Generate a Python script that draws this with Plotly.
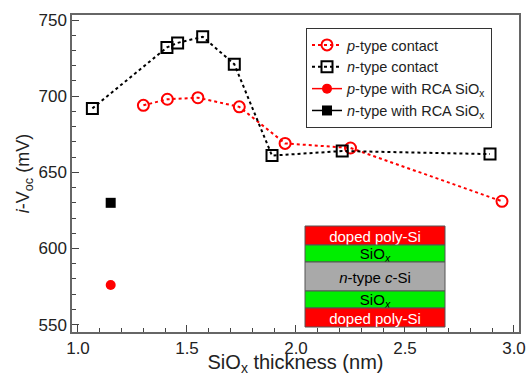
import plotly.graph_objects as go

p_x = [1.30, 1.41, 1.55, 1.74, 1.95, 2.25, 2.945]
p_y = [694, 698, 699, 693, 669, 666, 631]
n_x = [1.066, 1.408, 1.457, 1.572, 1.717, 1.89, 2.212, 2.89]
n_y = [692, 732, 735, 739, 721, 661, 664, 662]
p_rca_x = [1.15]
p_rca_y = [576]
n_rca_x = [1.15]
n_rca_y = [630]

layers = ["doped poly-Si", "SiO<sub><i>x</i></sub>", "<i>n</i>-type <i>c</i>-Si",
          "SiO<sub><i>x</i></sub>", "doped poly-Si"]
layer_colors = ["#ff0000", "#00ee00", "#a9a9a9", "#00ee00", "#ff0000"]
layer_text_colors = ["white", "black", "black", "black", "white"]

font = "Liberation Sans, Arial, sans-serif"

fig = go.Figure()
fig.add_trace(go.Scatter(x=p_x, y=p_y, mode="lines+markers",
                         name="<i>p</i>-type contact",
                         line=dict(color="red", dash="dot", width=2),
                         marker=dict(symbol="circle-open", size=11, color="red",
                                     line=dict(width=2))))
fig.add_trace(go.Scatter(x=n_x, y=n_y, mode="lines+markers",
                         name="<i>n</i>-type contact",
                         line=dict(color="black", dash="dot", width=2),
                         marker=dict(symbol="square-open", size=11, color="black",
                                     line=dict(width=2))))
fig.add_trace(go.Scatter(x=p_rca_x, y=p_rca_y, mode="lines+markers",
                         name="<i>p</i>-type with RCA SiO<sub>x</sub>",
                         line=dict(color="red", width=1.5),
                         marker=dict(symbol="circle", size=10, color="red")))
fig.add_trace(go.Scatter(x=n_rca_x, y=n_rca_y, mode="lines+markers",
                         name="<i>n</i>-type with RCA SiO<sub>x</sub>",
                         line=dict(color="black", width=1.5),
                         marker=dict(symbol="square", size=10, color="black")))

# inset layer stack (paper coords)
L, R, T, B = 72, 519, 15, 332
def px(x): return (x - L) / (R - L)
def py(y): return (B - y) / (B - T)
bounds = [226, 245, 262, 291, 308, 327]
for i, lab in enumerate(layers):
    y0, y1 = bounds[i], bounds[i + 1]
    fig.add_shape(type="rect", xref="paper", yref="paper",
                  x0=px(305), x1=px(445), y0=py(y1), y1=py(y0),
                  fillcolor=layer_colors[i], line=dict(color="#555", width=1),
                  label=dict(text=lab, textposition="middle center",
                             font=dict(family=font, size=15, color=layer_text_colors[i])))

axis_common = dict(showline=True, mirror=True, linecolor="#666", linewidth=1.5,
                   ticks="inside", ticklen=7, tickcolor="#444", showgrid=False,
                   zeroline=False, automargin=False,
                   tickfont=dict(family=font, size=17, color="#222"))

fig.update_layout(
    width=526, height=376,
    margin=dict(l=72, r=7, t=15, b=44, autoexpand=False),
    plot_bgcolor="white", paper_bgcolor="white",
    font=dict(family=font, color="#222"),
    xaxis=dict(range=[0.9725, 3.023], dtick=0.5, tick0=1.0, tickformat=".1f",
               minor=dict(dtick=0.1, ticks="inside", ticklen=4, tickcolor="#444"),
               title=dict(text="SiO<sub>x</sub> thickness (nm)", standoff=3,
                          font=dict(family=font, size=20)),
               **axis_common),
    yaxis=dict(range=[545.2, 753.3], dtick=50, tick0=550,
               minor=dict(dtick=10, ticks="inside", ticklen=4, tickcolor="#444"),
               title=dict(text="<i>i</i>-V<sub>oc</sub> (mV)", standoff=4,
                          font=dict(family=font, size=18)),
               **axis_common),
    legend=dict(x=px(306), y=py(28), xanchor="left", yanchor="top",
                bgcolor="white", bordercolor="#333", borderwidth=1,
                font=dict(family=font, size=14.5, color="#222"),
                tracegroupgap=0, itemwidth=30),
    showlegend=True,
)

fig.write_html("out.html", config={"displayModeBar": False},
               post_script="document.body.style.margin='0';document.body.style.padding='0';")
